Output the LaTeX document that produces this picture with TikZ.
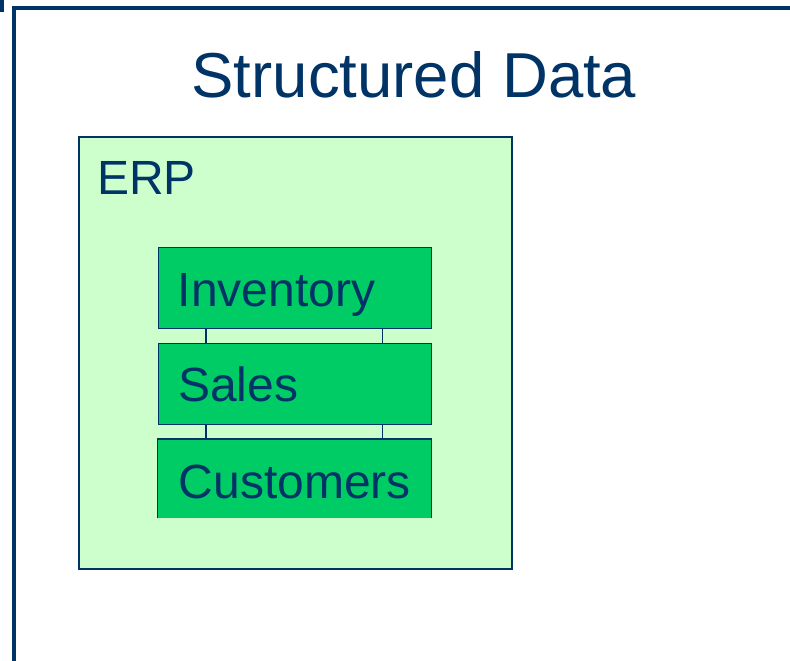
\documentclass[tikz,border=0pt]{standalone}
\usepackage{fontspec}
\setmainfont{Liberation Sans}
\usepackage{tikz}
\definecolor{navy}{HTML}{003366}
\definecolor{palegreen}{HTML}{CCFFCC}
\definecolor{tablegreen}{HTML}{00CC66}
\tikzset{
  tablebox/.style={draw=navy,line width=1.3pt,fill=tablegreen,anchor=north west,
    minimum width=273pt,inner sep=0pt},
  label/.style={anchor=base west,inner sep=0pt,text=navy,font=\fontsize{48}{54}\selectfont},
  link/.style={draw=navy,line width=1.5pt}
}
\begin{document}
\begin{tikzpicture}[x=1pt,y=-1pt]
\useasboundingbox (0,0) rectangle (790,661);
\fill[navy] (0,0) rectangle (4,12);
\draw[navy,line width=4pt] (12,8) -- (790,8);
\draw[navy,line width=4pt] (14,6) -- (14,661);
\node[anchor=base,text=navy,font=\fontsize{63.5}{70}\selectfont] (title) at (414,97) {Structured Data};
\node[draw=navy,line width=2pt,fill=palegreen,anchor=north west,minimum width=433pt,minimum height=432pt,inner sep=0pt] (erp) at (77.5,135.5) {};
\node[label] (erptext) at (97,194) {ERP};
\node[tablebox,minimum height=81pt] (inv) at (157.5,247) {};
\node[tablebox,minimum height=81pt] (sal) at (157.5,343) {};
\node[tablebox,draw=none,minimum height=78pt] (cus) at (157.5,439) {};
\draw[navy,line width=1.3pt] (cus.south west) |- (cus.north east) -- (cus.south east);
\node[label] (invtext) at (177.5,306) {Inventory};
\node[label] (saltext) at (178,401) {Sales};
\node[label] (custext) at (178.5,498) {Customers};
\draw[link] ([xshift=48.5pt]inv.south west) -- ([xshift=48.5pt]sal.north west);
\draw[link] ([xshift=-49.5pt]inv.south east) -- ([xshift=-49.5pt]sal.north east);
\draw[link] ([xshift=48.5pt]sal.south west) -- ([xshift=48.5pt]cus.north west);
\draw[link] ([xshift=-49.5pt]sal.south east) -- ([xshift=-49.5pt]cus.north east);
\end{tikzpicture}
\end{document}
